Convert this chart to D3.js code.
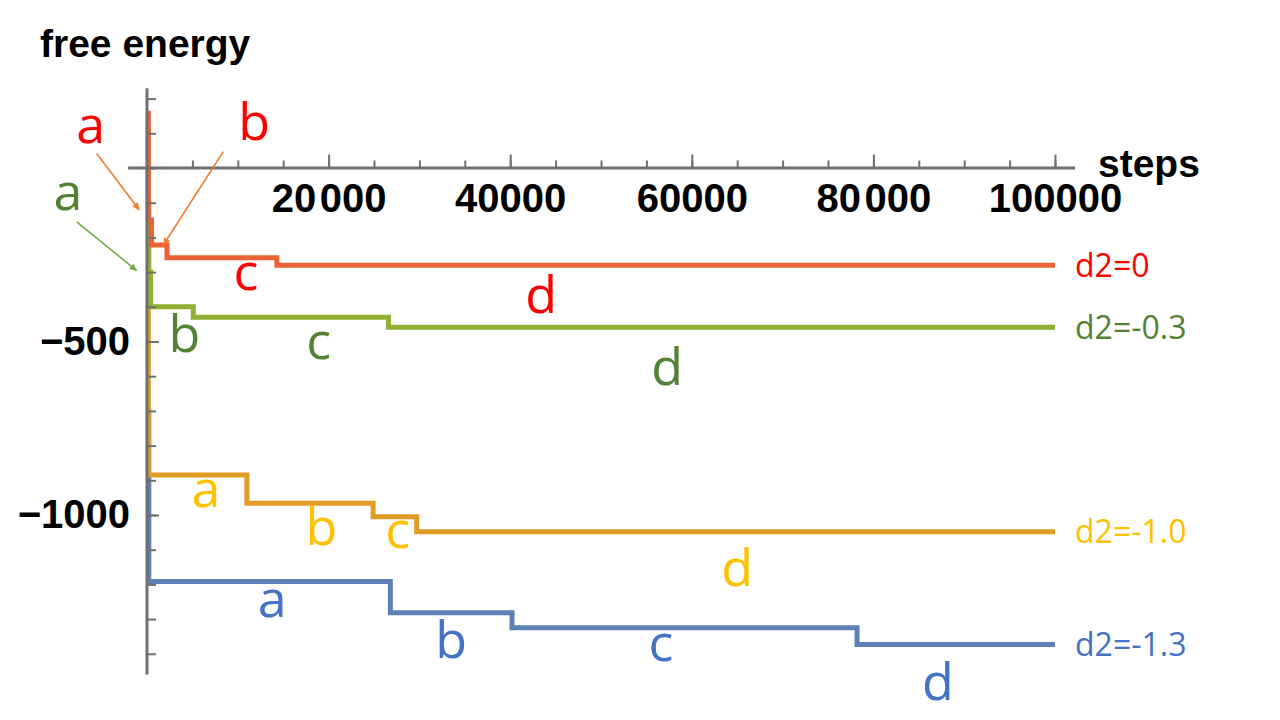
<!DOCTYPE html>
<html>
<head>
<meta charset="utf-8">
<script src="https://cdn.jsdelivr.net/npm/d3@7"></script>
<style>
  body { margin: 0; background: #fff; }
  svg { display: block; }
  .axis text, .axis-title {
    font-family: "Liberation Sans", Arial, sans-serif;
    font-weight: bold;
    fill: #000;
  }
  .note { font-family: "Open Sans", "Noto Sans", sans-serif; }
</style>
</head>
<body>
<script>
// Constants
var w = 1280,
    h = 720;

// Series as [steps, free energy]; each value holds until the next step
var red    = [[0, 158], [150, -150], [500, -222], [2200, -259], [14300, -280], [100000, -280]];
var green  = [[0, -100], [200, -300], [400, -400], [5100, -430], [26600, -459], [100000, -459]];
var orange = [[0, 120], [150, -885], [11000, -966], [24900, -1005], [29700, -1048], [100000, -1048]];
var blue   = [[0, -700], [200, -1192], [26800, -1282], [40200, -1325], [78200, -1373], [100000, -1373]];

var seriesNames = ["d2=0", "d2=-0.3", "d2=-1.0", "d2=-1.3"];

// Axis ticks
var xMajorTicks = [20000, 40000, 60000, 80000, 100000];
var xTickLabels = ["20\u200a000", "40000", "60000", "80\u200a000", "100000"];
var xMinorTicks = d3.range(5000, 100001, 5000);
var yMajorTicks = [-500, -1000];
var yTickLabels = ["\u2212500", "\u22121000"];
var yMinorTicks = d3.range(200, -1401, -100);

// Stage letters: [series, letter, steps, energy]
var stageLetters = [
  [0, "a", -6200, 72], [0, "b", 11800, 81], [0, "c", 10900, -352], [0, "d", 43400, -418],
  [1, "a", -8700, -121], [1, "b", 4130, -529], [1, "c", 18900, -550], [1, "d", 57300, -625],
  [2, "a", 6500, -977], [2, "b", 19200, -1087], [2, "c", 27600, -1095], [2, "d", 65000, -1205],
  [3, "a", 13800, -1294], [3, "b", 33500, -1413], [3, "c", 56600, -1420], [3, "d", 87100, -1534]
];

// Arrows: [colour, from steps, from energy, to steps, to energy]
var arrows = [
  ["#ed7d31", -5540, 42, -850, -121],
  ["#ed7d31", 8400, 47, 1800, -222],
  ["#70ad47", -7740, -155, -1130, -296]
];

var lineColors = ["#eb6235", "#8fb032", "#e19c24", "#5e81b5"];
var textColors = ["#ff0000", "#548235", "#ffc000", "#4472c4"];
var axisColor = "#707070";

// Scales
var xScale = d3.scaleLinear()
               .domain([0, 100000])
               .range([147, 1055]);

var yScale = d3.scaleLinear()
               .domain([0, -1000])
               .range([168, 515]);

// Create svg
var svg = d3.select('body')
            .append('svg')
            .attr('width', w)
            .attr('height', h);

// Arrow heads
var defs = svg.append('defs');
["#ed7d31", "#70ad47"].forEach(function(c) {
  defs.append('marker')
      .attr('id', 'head' + c.slice(1))
      .attr('viewBox', '0 0 10 10')
      .attr('refX', 10)
      .attr('refY', 5)
      .attr('markerUnits', 'userSpaceOnUse')
      .attr('markerWidth', 9)
      .attr('markerHeight', 7)
      .attr('orient', 'auto')
    .append('path')
      .attr('d', 'M0,0L10,5L0,10z')
      .attr('fill', c);
});

// Step lines
var line = d3.line()
             .x(function(d) { return xScale(d[0]); })
             .y(function(d) { return yScale(d[1]); })
             .curve(d3.curveStepAfter);

var series = [red, green, orange, blue];
var drawOrder = [3, 2, 1, 0]; // red and green end up on top near the axis

svg.selectAll('path.series')
   .data(drawOrder)
   .enter()
   .append('path')
   .attr('class', 'series')
   .attr('d', function(i) { return line(series[i]); })
   .attr('fill', 'none')
   .attr('stroke', function(i) { return lineColors[i]; })
   .attr('stroke-width', 5);

// Axes lines
svg.append('line')
   .attr('x1', xScale(-2100)).attr('x2', xScale(102200))
   .attr('y1', yScale(0)).attr('y2', yScale(0))
   .attr('stroke', axisColor).attr('stroke-width', 3);

svg.append('line')
   .attr('x1', xScale(0)).attr('x2', xScale(0))
   .attr('y1', yScale(230)).attr('y2', yScale(-1460))
   .attr('stroke', axisColor).attr('stroke-width', 3);

// x ticks (pointing up, labels below)
var xMinorAxis = d3.axisBottom(xScale)
                   .tickValues(xMinorTicks)
                   .tickSize(-7.5)
                   .tickSizeOuter(0)
                   .tickFormat('');

var xMajorAxis = d3.axisBottom(xScale)
                   .tickValues(xMajorTicks)
                   .tickSize(-13.5)
                   .tickSizeOuter(0)
                   .tickPadding(16)
                   .tickFormat(function(d) { return xTickLabels[xMajorTicks.indexOf(d)]; });

// y ticks (pointing right, labels on the left)
var yMinorAxis = d3.axisLeft(yScale)
                   .tickValues(yMinorTicks)
                   .tickSize(-9)
                   .tickSizeOuter(0)
                   .tickFormat('');

var yMajorAxis = d3.axisLeft(yScale)
                   .tickValues(yMajorTicks)
                   .tickSize(-12)
                   .tickSizeOuter(0)
                   .tickPadding(17)
                   .tickFormat(function(d) { return yTickLabels[yMajorTicks.indexOf(d)]; });

[[xMinorAxis, 'x'], [xMajorAxis, 'x'], [yMinorAxis, 'y'], [yMajorAxis, 'y']].forEach(function(a) {
  var g = svg.append('g')
             .attr('class', 'axis')
             .attr('transform', a[1] === 'x'
                   ? 'translate(0,' + yScale(0) + ')'
                   : 'translate(' + xScale(0) + ',0)')
             .call(a[0]);
  g.select('.domain').remove();
  g.selectAll('.tick line').attr('stroke', axisColor).attr('stroke-width', 2);
  g.selectAll('text').attr('font-size', 40);
});

// Axis titles
svg.append('text')
   .attr('class', 'axis-title')
   .attr('x', 40)
   .attr('y', 57)
   .attr('font-size', 39)
   .text('free energy');

svg.append('text')
   .attr('class', 'axis-title')
   .attr('x', 1098)
   .attr('y', 177)
   .attr('font-size', 39)
   .text('steps');

// Arrows
svg.selectAll('line.arrow')
   .data(arrows)
   .enter()
   .append('line')
   .attr('class', 'arrow')
   .attr('x1', function(d) { return xScale(d[1]); })
   .attr('y1', function(d) { return yScale(d[2]); })
   .attr('x2', function(d) { return xScale(d[3]); })
   .attr('y2', function(d) { return yScale(d[4]); })
   .attr('stroke', function(d) { return d[0]; })
   .attr('stroke-width', 1.6)
   .attr('marker-end', function(d) { return 'url(#head' + d[0].slice(1) + ')'; });

// Stage letters
svg.selectAll('text.stage')
   .data(stageLetters)
   .enter()
   .append('text')
   .attr('class', 'stage note')
   .attr('x', function(d) { return xScale(d[2]); })
   .attr('y', function(d) { return yScale(d[3]); })
   .attr('text-anchor', 'middle')
   .attr('font-size', 52)
   .attr('fill', function(d) { return textColors[d[0]]; })
   .text(function(d) { return d[1]; });

// Series names at the line ends
svg.selectAll('text.name')
   .data(series)
   .enter()
   .append('text')
   .attr('class', 'name note')
   .attr('x', xScale(100000) + 20)
   .attr('y', function(d) { return yScale(d[d.length - 1][1]); })
   .attr('dy', '0.36em')
   .attr('font-size', 32)
   .attr('fill', function(d, i) { return textColors[i]; })
   .text(function(d, i) { return seriesNames[i]; });
</script>
</body>
</html>
